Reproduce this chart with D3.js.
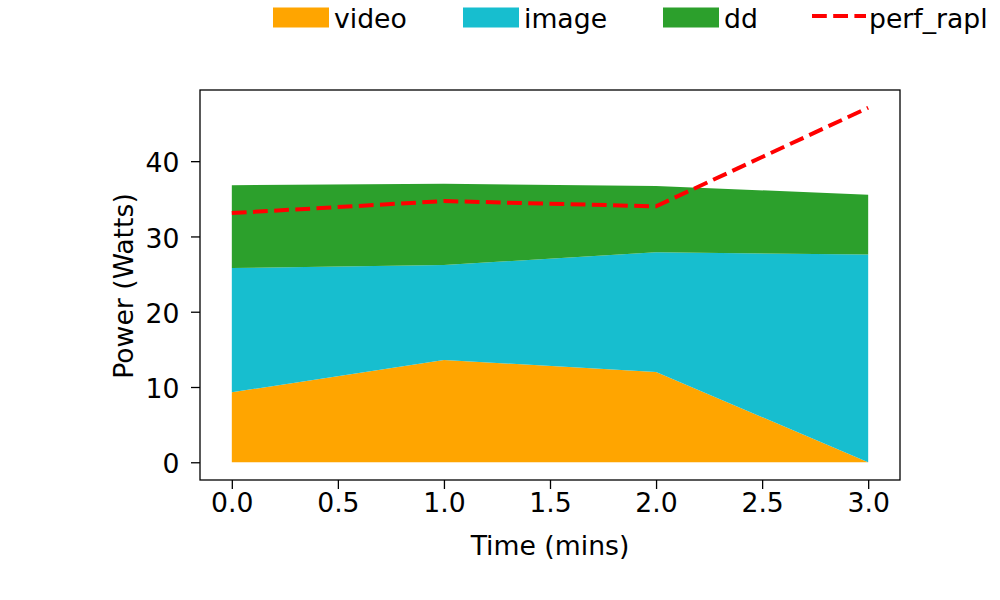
<!DOCTYPE html>
<html><head><meta charset="utf-8">
<script src="https://cdn.jsdelivr.net/npm/d3@7"></script>
<style>body{margin:0;background:#fff}text{font-family:"DejaVu Sans",sans-serif}</style>
</head><body>
<svg id="c" width="1000" height="600"></svg>
<script>
const times = [0, 1, 2, 3];
const video = [9.3, 13.6, 12.0, 0.0];
const image = [16.5, 12.6, 15.9, 27.6];
const dd = [11.0, 10.8, 8.8, 7.95];
const perfRapl = [33.1, 34.7, 34.0, 47.1];
const seriesNames = ["video", "image", "dd"];
const seriesColors = ["#ffa500", "#17becf", "#2ca02c"];
const xTicks = [0, 0.5, 1, 1.5, 2, 2.5, 3];
const yTicks = [0, 10, 20, 30, 40];

const FS = 26.67;
const svg = d3.select("#c");
const L = 200, R = 900, T = 90, B = 480;
const x = d3.scaleLinear().domain([-0.15, 3.15]).range([L, R]);
const yMax = 47.1, yPad = yMax * 0.05;
const y = d3.scaleLinear().domain([-yPad, yMax + yPad]).range([B, T]);

const rows = times.map((t, i) => ({t, video: video[i], image: image[i], dd: dd[i]}));
const stack = d3.stack().keys(seriesNames)(rows);
const area = d3.area().x(d => x(d.data.t)).y0(d => y(d[0])).y1(d => y(d[1]));
svg.append("g").selectAll("path").data(stack).join("path")
  .attr("d", area).attr("fill", (d, i) => seriesColors[i]);

const line = d3.line().x((d, i) => x(times[i])).y(d => y(d));
svg.append("path").attr("d", line(perfRapl)).attr("fill", "none")
  .attr("stroke", "#ff0000").attr("stroke-width", 4).attr("stroke-dasharray", "14.8,6.4");

svg.append("rect").attr("x", L).attr("y", T).attr("width", R - L).attr("height", B - T)
  .attr("fill", "none").attr("stroke", "#000").attr("stroke-width", 1.3);

const xa = svg.append("g").attr("transform", `translate(0,${B})`)
  .call(d3.axisBottom(x).tickValues(xTicks).tickFormat(d3.format(".1f")).tickSize(9).tickPadding(4));
const ya = svg.append("g").attr("transform", `translate(${L},0)`)
  .call(d3.axisLeft(y).tickValues(yTicks).tickSize(9).tickPadding(11.5));
[xa, ya].forEach(a => {
  a.select(".domain").remove();
  a.selectAll("line").attr("stroke", "#000").attr("stroke-width", 1.3);
  a.selectAll("text").attr("font-size", FS).attr("fill", "#000").attr("font-family", "DejaVu Sans");
});
ya.selectAll("text").attr("dy", "0.4em");

svg.append("text").attr("x", 550).attr("y", 555).attr("text-anchor", "middle")
  .attr("font-size", FS).text("Time (mins)");
svg.append("text").attr("transform", "translate(133,286) rotate(-90)").attr("text-anchor", "middle")
  .attr("font-size", FS).text("Power (Watts)");

const legX = [273, 463, 663];
const lg = svg.append("g");
seriesNames.forEach((n, i) => {
  lg.append("rect").attr("x", legX[i]).attr("y", 7.5).attr("width", 56).attr("height", 20).attr("fill", seriesColors[i]);
  lg.append("text").attr("x", legX[i] + 61).attr("y", 28).attr("font-size", FS).text(n);
});
lg.append("line").attr("x1", 812).attr("x2", 866).attr("y1", 16).attr("y2", 16)
  .attr("stroke", "#ff0000").attr("stroke-width", 4).attr("stroke-dasharray", "14.8,6.4");
lg.append("text").attr("x", 869).attr("y", 28).attr("font-size", FS).text("perf_rapl");
</script>
</body></html>
